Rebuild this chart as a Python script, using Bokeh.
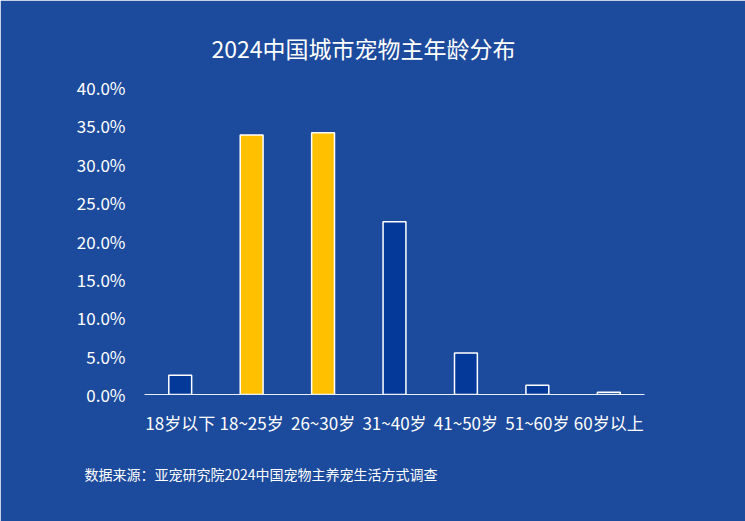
from bokeh.plotting import figure
from bokeh.models import ColumnDataSource, Title, NumeralTickFormatter, FixedTicker, Range1d
from bokeh.embed import file_html
from bokeh.resources import INLINE

categories = ["18岁以下", "18~25岁", "26~30岁", "31~40岁", "41~50岁", "51~60岁", "60岁以上"]
shares = [2.5, 33.8, 34.1, 22.5, 5.4, 1.2, 0.3]
bar_colors = ["#04399a", "#ffc000", "#ffc000", "#04399a", "#04399a", "#04399a", "#04399a"]
y_ticks = [0, 5, 10, 15, 20, 25, 30, 35, 40]
title_text = "2024中国城市宠物主年龄分布"
source_text = "数据来源：亚宠研究院2024中国宠物主养宠生活方式调查"

FONT = "Noto Sans CJK SC"
BG = "#1c4a9c"

src = ColumnDataSource(dict(cat=categories, val=[v / 100 for v in shares], color=bar_colors))

p = figure(x_range=categories, y_range=Range1d(0, 0.40), width=745, height=521,
           output_backend="svg", toolbar_location=None,
           min_border_left=144, min_border_right=101, min_border_top=87, min_border_bottom=127)
p.background_fill_color = BG
p.border_fill_color = BG
p.outline_line_color = BG
p.outline_line_width = 2

p.vbar(x="cat", top="val", width=0.32, source=src, fill_color="color",
       line_color="white", line_width=1.5)

p.xgrid.visible = False
p.ygrid.visible = False

p.yaxis.ticker = FixedTicker(ticks=[t / 100 for t in y_ticks])
p.yaxis.formatter = NumeralTickFormatter(format="0.0%")
p.yaxis.axis_line_color = None
p.yaxis.major_tick_line_color = None
p.yaxis.minor_tick_line_color = None
p.yaxis.major_label_text_color = "white"
p.yaxis.major_label_text_font = FONT
p.yaxis.major_label_text_font_size = "17px"
p.yaxis.major_label_standoff = 13

p.xaxis.axis_line_color = "#e8eef8"
p.xaxis.axis_line_width = 1.2
p.xaxis.major_tick_line_color = None
p.xaxis.minor_tick_line_color = None
p.xaxis.major_label_text_color = "white"
p.xaxis.major_label_text_font = FONT
p.xaxis.major_label_text_font_size = "17px"
p.xaxis.major_label_standoff = 9

t = Title(text=title_text, align="left", offset=67, text_color="white",
          text_font=FONT, text_font_size="23px", text_font_style="normal",
          standoff=46)
p.add_layout(t, "above")

s = Title(text=source_text, align="left", offset=-60, text_color="white",
          text_font=FONT, text_font_size="14px", text_font_style="normal",
          standoff=48)
p.add_layout(s, "below")

open("out.html", "w").write(file_html(p, INLINE))
